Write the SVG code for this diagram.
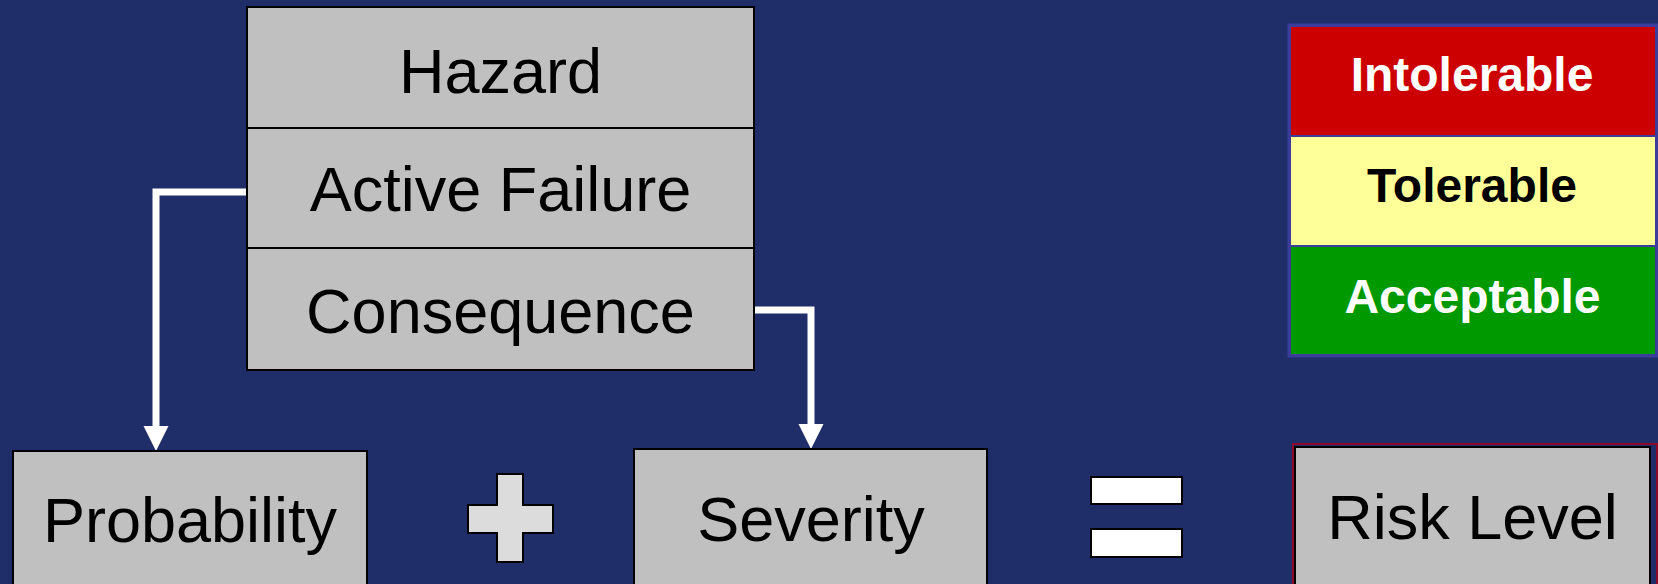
<svg xmlns="http://www.w3.org/2000/svg" width="1658" height="584" viewBox="0 0 1658 584">
  <defs>
    <style>
      .box { fill: #c0c0c0; stroke: #000; stroke-width: 2; }
      .lbl { font-family: "Liberation Sans", Arial, sans-serif; font-size: 63px; fill: #000; text-anchor: middle; }
      .leg { font-family: "Liberation Sans", Arial, sans-serif; font-size: 48px; font-weight: bold; text-anchor: middle; }
      .conn { fill: none; stroke: #fff; stroke-width: 7; }
      .head { fill: #fff; }
      .sym { stroke: #000; stroke-width: 2; }
      .band { stroke: #3c3c9a; stroke-width: 2; }
    </style>
  </defs>

  <rect width="1658" height="584" fill="#1f2d69"/>

  <!-- connectors: elbow lines with downward arrowheads -->
  <g id="connectors">
    <path class="conn" d="M247,192 H156 V428"/>
    <polygon class="head" points="143.5,426 168.5,426 156,451"/>
    <path class="conn" d="M754,310 H811 V426"/>
    <polygon class="head" points="798.5,424 823.5,424 811,449"/>
  </g>

  <!-- hazard chain stack -->
  <g id="hazard">
    <rect class="box" x="247" y="7" width="507" height="121"/>
    <text class="lbl" x="500.5" y="93">Hazard</text>
  </g>
  <g id="active-failure">
    <rect class="box" x="247" y="128" width="507" height="120"/>
    <text class="lbl" x="500.5" y="211">Active Failure</text>
  </g>
  <g id="consequence">
    <rect class="box" x="247" y="248" width="507" height="122"/>
    <text class="lbl" x="500.5" y="333">Consequence</text>
  </g>

  <!-- bottom row: probability + severity = risk level -->
  <g id="probability">
    <rect class="box" x="13" y="451" width="354" height="150"/>
    <text class="lbl" x="190" y="542">Probability</text>
  </g>
  <g id="plus">
    <path class="sym" fill="#dcdcdc" d="M497,474 H523 V505 H553 V533 H523 V562 H497 V533 H468 V505 H497 Z"/>
  </g>
  <g id="severity">
    <rect class="box" x="634" y="449" width="353" height="150"/>
    <text class="lbl" x="811" y="541">Severity</text>
  </g>
  <g id="equals">
    <rect class="sym" fill="#fff" x="1091" y="477" width="91" height="27"/>
    <rect class="sym" fill="#fff" x="1091" y="529" width="91" height="28"/>
  </g>
  <g id="risk-level">
    <rect x="1293" y="444" width="364" height="160" fill="none" stroke="#8b0a2a" stroke-width="2"/>
    <rect class="box" x="1295" y="447" width="355" height="150"/>
    <text class="lbl" x="1472.5" y="539">Risk Level</text>
  </g>

  <!-- risk level scale -->
  <g id="legend">
    <rect x="1289" y="25" width="368" height="331" fill="none" stroke="#3c3c9a" stroke-width="3"/>
    <g id="intolerable">
      <rect class="band" x="1290" y="26" width="366" height="110" fill="#cc0000"/>
      <text class="leg" x="1472" y="91" fill="#fff">Intolerable</text>
    </g>
    <g id="tolerable">
      <rect class="band" x="1290" y="136" width="366" height="110" fill="#ffff99"/>
      <text class="leg" x="1472" y="202" fill="#000">Tolerable</text>
    </g>
    <g id="acceptable">
      <rect class="band" x="1290" y="246" width="366" height="109" fill="#009900"/>
      <text class="leg" x="1472.5" y="313" fill="#fff">Acceptable</text>
    </g>
  </g>
</svg>
